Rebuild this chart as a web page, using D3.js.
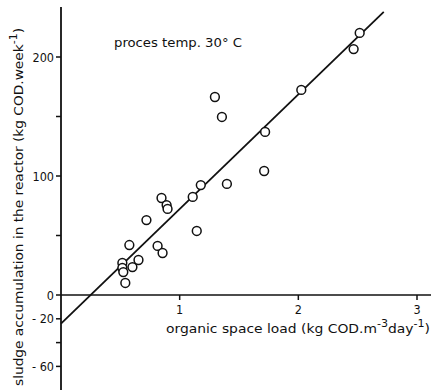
<!DOCTYPE html>
<html>
<head>
<meta charset="utf-8">
<script src="https://cdn.jsdelivr.net/npm/d3@7"></script>
<style>
  body { margin: 0; background: #fff; }
  text { font-family: "DejaVu Sans Condensed", "DejaVu Sans", sans-serif; fill: #111; }
</style>
</head>
<body>
<svg id="chart"></svg>
<script>
// organic space load (kg COD/m3/day)
const loadValues = [0.517, 0.517, 0.525, 0.542, 0.602, 0.576, 0.653, 0.720, 0.814, 0.856,
  0.847, 0.890, 0.898, 1.110, 1.144, 1.178, 1.297, 1.356, 1.398, 1.712,
  1.720, 2.025, 2.466, 2.517];
// sludge accumulation (kg COD/week)
const sludgeValues = [26.9, 22.7, 19.3, 10.1, 23.5, 42.0, 29.4, 63.0, 41.2, 35.3,
  81.5, 75.6, 72.3, 82.4, 53.8, 92.4, 166.4, 149.6, 93.3, 104.2,
  137.0, 172.3, 206.7, 220.2];
// fitted line end points
const fitX = [0, 2.72];
const fitY = [-24, 238];

const yTicks = [200, 150, 100, 50, 0, -20, -40, -60];
const yTickLabels = { 200: "200", 100: "100", 0: "0", "-20": "- 20", "-60": "- 60" };
const xTicks = [1, 2, 3];

const W = 433, H = 390;
const svg = d3.select("#chart").attr("width", W).attr("height", H);

const x = d3.scaleLinear().domain([0, 3]).range([61, 417]);
const y = d3.scaleLinear().domain([0, 200]).range([295, 57]);

// axes lines
svg.append("line")
  .attr("x1", x(0)).attr("x2", x(0))
  .attr("y1", 7).attr("y2", H)
  .attr("stroke", "#111").attr("stroke-width", 1.8);
svg.append("line")
  .attr("x1", x(0)).attr("x2", 431)
  .attr("y1", y(0)).attr("y2", y(0))
  .attr("stroke", "#111").attr("stroke-width", 1.6);

// y ticks
svg.selectAll(".ytick").data(yTicks).enter().append("line")
  .attr("x1", x(0) - 5).attr("x2", x(0))
  .attr("y1", d => y(d)).attr("y2", d => y(d))
  .attr("stroke", "#111").attr("stroke-width", 1.5);
svg.selectAll(".ylab").data(yTicks.filter(d => yTickLabels[d])).enter().append("text")
  .attr("x", x(0) - 7)
  .attr("y", d => y(d))
  .attr("dy", "0.36em")
  .attr("text-anchor", "end")
  .attr("font-size", 12.5)
  .text(d => yTickLabels[d]);

// x ticks
svg.selectAll(".xtick").data(xTicks).enter().append("line")
  .attr("x1", d => x(d)).attr("x2", d => x(d))
  .attr("y1", y(0)).attr("y2", y(0) + 5)
  .attr("stroke", "#111").attr("stroke-width", 1.5);
svg.selectAll(".xlab").data(xTicks).enter().append("text")
  .attr("x", d => x(d))
  .attr("y", y(0) + 19)
  .attr("text-anchor", "middle")
  .attr("font-size", 12.5)
  .text(d => d);

// fitted line
svg.append("line")
  .attr("x1", x(fitX[0])).attr("y1", y(fitY[0]))
  .attr("x2", x(fitX[1])).attr("y2", y(fitY[1]))
  .attr("stroke", "#111").attr("stroke-width", 1.8);

// points
const pts = loadValues.map((v, i) => ({ load: v, sludge: sludgeValues[i] }));
svg.selectAll(".pt").data(pts).enter().append("circle")
  .attr("cx", d => x(d.load))
  .attr("cy", d => y(d.sludge))
  .attr("r", 4.4)
  .attr("fill", "#fff")
  .attr("stroke", "#111")
  .attr("stroke-width", 1.5);

// annotation
svg.append("text")
  .attr("x", 114).attr("y", 47)
  .attr("font-size", 12.5)
  .attr("textLength", 128).attr("lengthAdjust", "spacingAndGlyphs")
  .text("proces temp. 30° C");

// x axis title
const xt = svg.append("text")
  .attr("x", 166).attr("y", 333)
  .attr("font-size", 12.5)
  .attr("textLength", 264).attr("lengthAdjust", "spacingAndGlyphs");
xt.append("tspan").text("organic  space load (kg COD.m");
xt.append("tspan").attr("dy", -6).attr("font-size", 10).text("-3");
xt.append("tspan").attr("dy", 6).text("day");
xt.append("tspan").attr("dy", -6).attr("font-size", 10).text("-1");
xt.append("tspan").attr("dy", 6).text(")");

// y axis title
const yt = svg.append("text")
  .attr("transform", "translate(23,386) rotate(-90)")
  .attr("font-size", 12.5)
  .attr("textLength", 358).attr("lengthAdjust", "spacingAndGlyphs");
yt.append("tspan").text("sludge accumulation in the reactor (kg COD.week");
yt.append("tspan").attr("dy", -6).attr("font-size", 10).text("-1");
yt.append("tspan").attr("dy", 6).text(")");
</script>
</body>
</html>
